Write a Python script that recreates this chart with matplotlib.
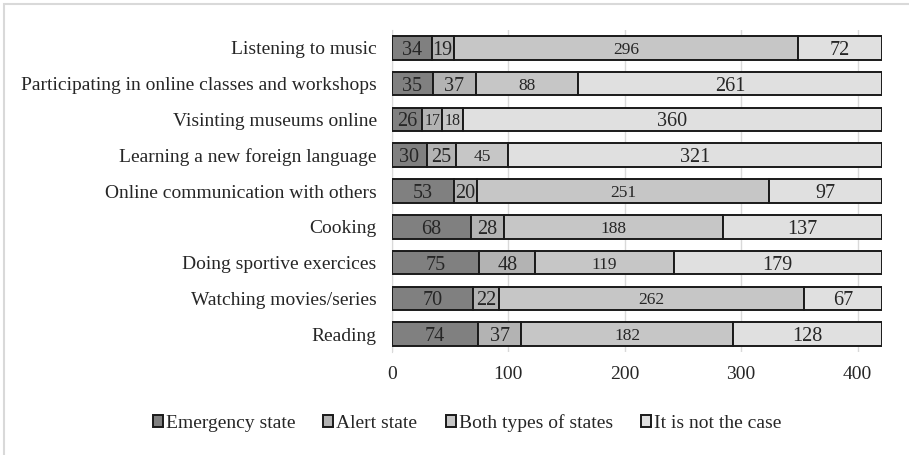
import matplotlib
matplotlib.use("Agg")
import matplotlib.pyplot as plt
from matplotlib.patches import Rectangle
import numpy as np

plt.rcParams['font.family'] = ['Liberation Serif', 'DejaVu Serif']

categories = ["Listening to music",
              "Participating in online classes and workshops",
              "Visinting museums online",
              "Learning a new foreign language",
              "Online communication with others",
              "Cooking",
              "Doing sportive exercices",
              "Watching movies/series",
              "Reading"]
series_names = ["Emergency state", "Alert state", "Both types of states", "It is not the case"]
emergency = [34, 35, 26, 30, 53, 68, 75, 70, 74]
alert = [19, 37, 17, 25, 20, 28, 48, 22, 37]
both = [296, 88, 18, 45, 251, 188, 119, 262, 182]
not_case = [72, 261, 360, 321, 97, 137, 179, 67, 128]
xticks = [0, 100, 200, 300, 400]

colors = ["#808080", "#b3b3b3", "#c6c6c6", "#e0e0e0"]
label_sizes = [14.5, 14.5, 12.5, 14.5]

fig = plt.figure(figsize=(9.09, 4.55), dpi=100)
ax = fig.add_axes([392/909, 1-352/455, (882-392)/909, (352-30)/455])

y = np.arange(len(categories))
data = [emergency, alert, both, not_case]
left = np.zeros(len(categories))
for vals, col, name, fs in zip(data, colors, series_names, label_sizes):
    vals = np.array(vals, dtype=float)
    ax.barh(y, vals, left=left, height=0.66, color=col, edgecolor="#1a1a1a",
            linewidth=1.4, label=name, zorder=3)
    for yi, l, v in zip(y, left, vals):
        size = fs if v >= 19 else 11.5
        ax.text(l + v/2, yi, f"{int(v)}", ha="center", va="center_baseline",
                fontsize=size, color="#262626", zorder=4)
    left += vals

ax.set_yticks(y)
ax.set_yticklabels(categories, fontsize=14, color="#262626")
ax.set_ylim(len(categories) - 0.5, -0.5)
ax.set_xlim(0, 421)
ax.set_xticks(xticks)
ax.set_xticklabels([str(t) for t in xticks], fontsize=14, color="#262626")
ax.tick_params(axis="y", length=0, pad=11)
ax.tick_params(axis="x", length=0, pad=10)
ax.grid(axis="x", color="#d9d9d9", linewidth=1, zorder=0)
for s in ["top", "right", "bottom"]:
    ax.spines[s].set_visible(False)
ax.spines["left"].set_color("#d9d9d9")

handles = [Rectangle((0, 0), 1, 1, facecolor=c, edgecolor="#1a1a1a", linewidth=1.4) for c in colors]
fig.legend(handles, series_names, loc="center", bbox_to_anchor=(467/909, 1-423/455),
           ncol=4, frameon=False, fontsize=14, handlelength=0.52, handleheight=0.52,
           handletextpad=0.15, columnspacing=1.45, labelcolor="#262626")

border = Rectangle((4/909, -0.01), 1.02, 1 - 4/455 + 0.01, transform=fig.transFigure,
                   fill=False, edgecolor="#d9d9d9", linewidth=1.5)
fig.patches.append(border)

fig.savefig("out.png", dpi=100)
